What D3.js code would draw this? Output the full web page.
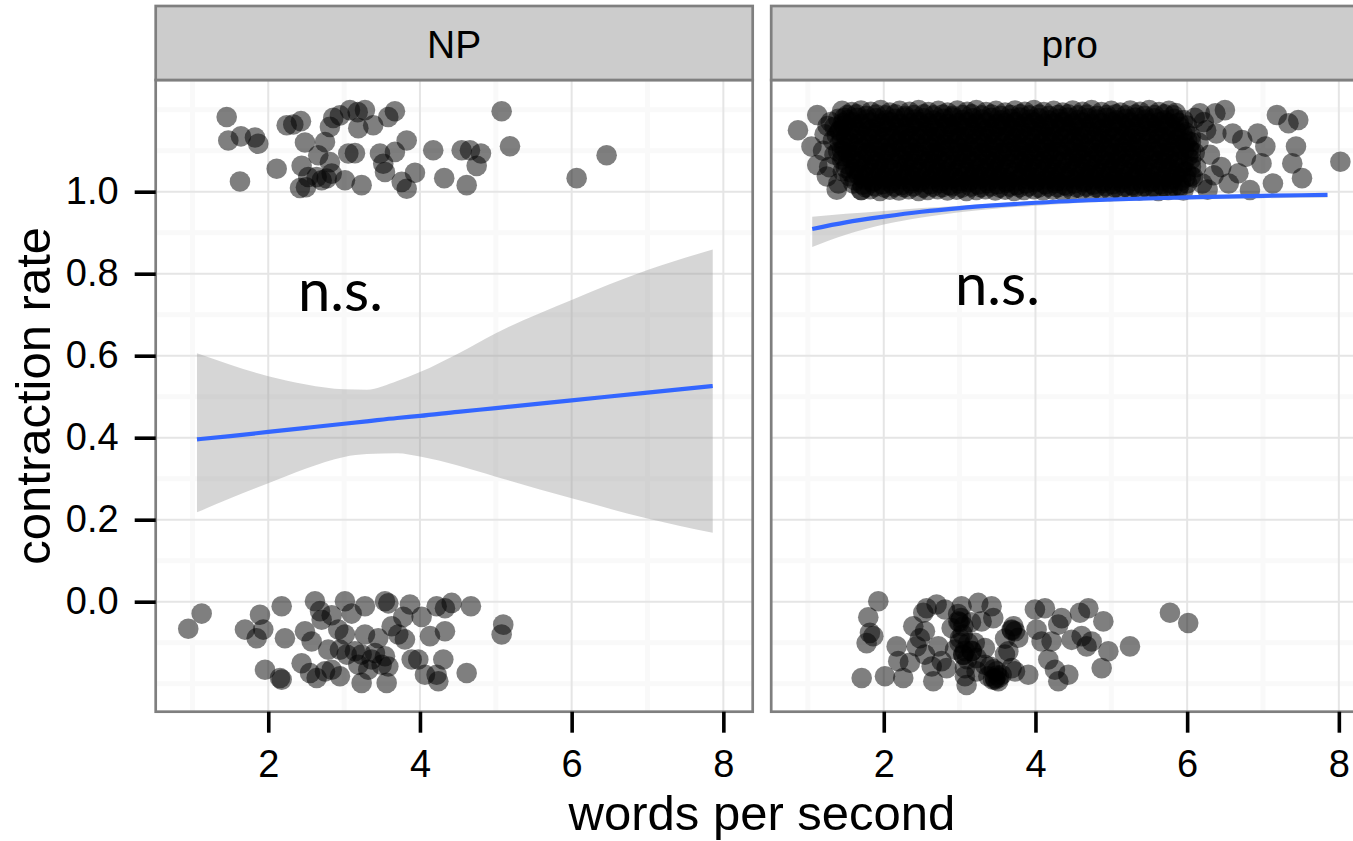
<!DOCTYPE html>
<html><head><meta charset="utf-8">
<script src="https://cdn.jsdelivr.net/npm/d3@7"></script>
<style>body{margin:0;background:#fff}svg{display:block}</style>
</head><body><svg id="chart" width="1353" height="841"></svg>
<script>
// ---------- data ----------
const panels = ["NP", "pro"];
const xTicks = [2, 4, 6, 8];
const xTickLabels = ["2", "4", "6", "8"];
const yTicks = [0.0, 0.2, 0.4, 0.6, 0.8, 1.0];
const yTickLabels = ["0.0", "0.2", "0.4", "0.6", "0.8", "1.0"];
const xMinor = [1, 3, 5, 7];
const yMinor = [-0.2, -0.1, 0.1, 0.3, 0.5, 0.7, 0.9, 1.1, 1.2];
const xTitle = "words per second";
const yTitle = "contraction rate";
const annotations = ["n.s.", "n.s."];

const npTop = [[1.452,1.182],[1.473,1.125],[1.640,1.135],[1.825,1.132],[1.868,1.117],[1.627,1.025],[2.111,1.056],[2.243,1.162],[2.330,1.164],[2.431,1.172],[2.484,1.120],[2.440,1.063],[2.418,1.009],[2.497,1.011],[2.527,1.036],[2.659,1.089],[2.748,1.121],[2.813,1.158],[2.857,1.180],[2.945,1.186],[3.077,1.199],[3.179,1.194],[3.275,1.199],[3.187,1.155],[3.384,1.162],[3.582,1.182],[3.670,1.196],[2.813,1.072],[2.836,1.044],[2.704,1.028],[2.770,1.032],[3.011,1.028],[3.055,1.093],[3.143,1.094],[3.231,1.016],[3.473,1.093],[3.516,1.068],[3.539,1.048],[3.670,1.097],[3.825,1.125],[3.759,1.024],[3.825,1.007],[3.934,1.046],[4.175,1.101],[4.320,1.033],[4.550,1.101],[4.659,1.101],[4.804,1.093],[4.748,1.063],[4.616,1.016],[5.077,1.196],[5.187,1.111],[2.638,1.036],[6.461,1.089],[6.066,1.033]];

const npBottom = [[1.122,-0.029],[0.945,-0.066],[1.693,-0.068],[1.891,-0.032],[1.934,-0.068],[1.847,-0.089],[2.177,-0.011],[2.220,-0.089],[1.957,-0.166],[2.177,-0.190],[2.155,-0.186],[2.484,-0.072],[2.572,-0.097],[2.616,0.001],[2.682,-0.023],[2.704,-0.044],[2.836,-0.033],[2.440,-0.150],[2.550,-0.174],[2.638,-0.186],[2.791,-0.117],[2.748,-0.170],[2.836,-0.166],[2.945,-0.182],[3.011,0.001],[3.099,-0.029],[2.923,-0.068],[3.011,-0.080],[2.945,-0.117],[3.034,-0.129],[3.143,-0.121],[3.231,-0.129],[3.187,-0.154],[3.275,-0.080],[3.275,-0.011],[3.231,-0.198],[3.318,-0.166],[3.450,-0.089],[3.539,0.001],[3.583,-0.004],[3.539,-0.133],[3.583,-0.158],[3.561,-0.198],[3.627,-0.060],[3.714,-0.080],[3.802,-0.092],[3.780,-0.037],[3.868,-0.007],[3.891,-0.141],[3.978,-0.141],[4.022,-0.037],[4.066,-0.178],[4.132,-0.084],[4.220,-0.178],[4.242,-0.194],[4.220,-0.011],[4.308,-0.141],[4.330,-0.072],[4.330,-0.016],[4.418,-0.003],[4.616,-0.174],[4.672,-0.011],[5.098,-0.056],[5.077,-0.080],[3.407,-0.125],[3.495,-0.154],[3.363,-0.141]];

const proBottom = [[1.928,0.001],[1.796,-0.038],[1.818,-0.076],[1.862,-0.084],[1.774,-0.101],[1.709,-0.186],[2.016,-0.182],[2.170,-0.109],[2.257,-0.186],[2.191,-0.145],[2.345,-0.149],[2.389,-0.060],[2.434,-0.109],[2.477,-0.089],[2.521,-0.027],[2.565,-0.016],[2.543,-0.072],[2.543,-0.129],[2.632,-0.158],[2.653,-0.194],[2.697,-0.007],[2.719,-0.109],[2.763,-0.145],[2.807,-0.019],[2.829,-0.162],[2.895,-0.064],[2.982,-0.048],[3.026,-0.011],[3.004,-0.089],[3.048,-0.129],[3.070,-0.162],[3.070,-0.182],[3.092,-0.203],[3.159,-0.121],[3.224,-0.137],[3.246,-0.003],[3.290,-0.048],[3.334,-0.154],[3.378,-0.182],[3.422,-0.011],[3.444,-0.040],[3.466,-0.186],[3.510,-0.194],[3.554,-0.178],[3.598,-0.129],[3.642,-0.121],[3.686,-0.068],[3.730,-0.072],[3.730,-0.170],[3.905,-0.178],[3.993,-0.019],[4.015,-0.068],[4.081,-0.097],[4.125,-0.016],[4.169,-0.141],[4.213,-0.097],[4.257,-0.166],[4.301,-0.056],[4.345,-0.040],[4.301,-0.194],[4.433,-0.178],[4.477,-0.093],[4.587,-0.027],[4.609,-0.084],[4.675,-0.109],[4.697,-0.016],[4.741,-0.097],[4.895,-0.048],[4.873,-0.162],[4.961,-0.121],[5.246,-0.109],[5.773,-0.027],[6.014,-0.052],[2.939,-0.117],[3.114,-0.101],[3.224,-0.170],[3.400,-0.158],[3.488,-0.170],[3.686,-0.162],[3.334,-0.113],[3.773,-0.088],[3.05,-0.06],[3.10,-0.14],[3.15,-0.05],[3.20,-0.10],[3.52,-0.185],[3.45,-0.165],[3.60,-0.09],[2.98,-0.03],[3.00,-0.05],[3.02,-0.04],[3.05,-0.13],[3.07,-0.12],[3.16,-0.12],[3.47,-0.19],[3.49,-0.18],[3.44,-0.19],[3.69,-0.07],[3.71,-0.06],[3.00,-0.10],[3.04,-0.08]];

// dense upper cluster of the "pro" panel (solid block), plus its sparse edges
const proTop = [
[1.45,1.197],[1.58,1.194],[1.70,1.198],[1.83,1.195],[1.96,1.199],[2.08,1.193],[2.21,1.197],[2.34,1.195],[2.46,1.199],[2.59,1.194],[2.72,1.197],[2.84,1.193],[2.97,1.198],[3.10,1.195],[3.22,1.199],[3.35,1.194],[3.48,1.197],[3.60,1.193],[3.73,1.198],[3.86,1.195],[3.98,1.199],[4.11,1.194],[4.24,1.197],[4.36,1.193],[4.49,1.198],[4.62,1.195],[4.74,1.199],[4.87,1.194],[5.00,1.197],[5.12,1.193],[5.25,1.198],[5.38,1.195],[5.50,1.199],[5.63,1.194],[5.76,1.197],[5.85,1.192],
[1.40,1.178],[1.52,1.175],[1.65,1.180],[1.77,1.176],[1.90,1.179],[2.03,1.174],[2.15,1.178],[2.28,1.181],[2.41,1.176],[2.53,1.179],[2.66,1.174],[2.79,1.178],[2.91,1.181],[3.04,1.175],[3.17,1.179],[3.29,1.176],[3.42,1.180],[3.55,1.174],[3.67,1.178],[3.80,1.181],[3.93,1.176],[4.05,1.179],[4.18,1.174],[4.31,1.178],[4.43,1.181],[4.56,1.175],[4.69,1.179],[4.81,1.176],[4.94,1.180],[5.07,1.174],[5.19,1.178],[5.32,1.181],[5.45,1.176],[5.57,1.179],[5.70,1.174],[5.83,1.178],[5.95,1.175],
[1.35,1.158],[1.47,1.161],[1.60,1.156],[1.73,1.159],[1.85,1.154],[1.98,1.158],[2.11,1.161],[2.23,1.155],[2.36,1.159],[2.49,1.156],[2.61,1.160],[2.74,1.154],[2.87,1.158],[2.99,1.161],[3.12,1.156],[3.25,1.159],[3.37,1.154],[3.50,1.158],[3.63,1.161],[3.75,1.155],[3.88,1.159],[4.01,1.156],[4.13,1.160],[4.26,1.154],[4.39,1.158],[4.51,1.161],[4.64,1.156],[4.77,1.159],[4.89,1.154],[5.02,1.158],[5.15,1.161],[5.27,1.155],[5.40,1.159],[5.53,1.156],[5.65,1.160],[5.78,1.154],[5.90,1.158],[6.00,1.161],
[1.38,1.138],[1.50,1.135],[1.63,1.140],[1.76,1.136],[1.88,1.139],[2.01,1.134],[2.14,1.138],[2.26,1.141],[2.39,1.136],[2.52,1.139],[2.64,1.134],[2.77,1.138],[2.90,1.141],[3.02,1.135],[3.15,1.139],[3.28,1.136],[3.40,1.140],[3.53,1.134],[3.66,1.138],[3.78,1.141],[3.91,1.136],[4.04,1.139],[4.16,1.134],[4.29,1.138],[4.42,1.141],[4.54,1.135],[4.67,1.139],[4.80,1.136],[4.92,1.140],[5.05,1.134],[5.18,1.138],[5.30,1.141],[5.43,1.136],[5.56,1.139],[5.68,1.134],[5.81,1.138],[5.94,1.141],[6.05,1.135],
[1.42,1.118],[1.55,1.121],[1.67,1.116],[1.80,1.119],[1.93,1.114],[2.05,1.118],[2.18,1.121],[2.31,1.115],[2.43,1.119],[2.56,1.116],[2.69,1.120],[2.81,1.114],[2.94,1.118],[3.07,1.121],[3.19,1.116],[3.32,1.119],[3.45,1.114],[3.57,1.118],[3.70,1.121],[3.83,1.115],[3.95,1.119],[4.08,1.116],[4.21,1.120],[4.33,1.114],[4.46,1.118],[4.59,1.121],[4.71,1.116],[4.84,1.119],[4.97,1.114],[5.09,1.118],[5.22,1.121],[5.35,1.115],[5.47,1.119],[5.60,1.116],[5.73,1.120],[5.85,1.114],[5.97,1.118],[6.05,1.121],
[1.40,1.098],[1.52,1.095],[1.65,1.100],[1.78,1.096],[1.90,1.099],[2.03,1.094],[2.16,1.098],[2.28,1.101],[2.41,1.096],[2.54,1.099],[2.66,1.094],[2.79,1.098],[2.92,1.101],[3.04,1.095],[3.17,1.099],[3.30,1.096],[3.42,1.100],[3.55,1.094],[3.68,1.098],[3.80,1.101],[3.93,1.096],[4.06,1.099],[4.18,1.094],[4.31,1.098],[4.44,1.101],[4.56,1.095],[4.69,1.099],[4.82,1.096],[4.94,1.100],[5.07,1.094],[5.20,1.098],[5.32,1.101],[5.45,1.096],[5.58,1.099],[5.70,1.094],[5.83,1.098],[5.96,1.101],[6.10,1.095],
[1.45,1.078],[1.57,1.081],[1.70,1.076],[1.83,1.079],[1.95,1.074],[2.08,1.078],[2.21,1.081],[2.33,1.075],[2.46,1.079],[2.59,1.076],[2.71,1.080],[2.84,1.074],[2.97,1.078],[3.09,1.081],[3.22,1.076],[3.35,1.079],[3.47,1.074],[3.60,1.078],[3.73,1.081],[3.85,1.075],[3.98,1.079],[4.11,1.076],[4.23,1.080],[4.36,1.074],[4.49,1.078],[4.61,1.081],[4.74,1.076],[4.87,1.079],[4.99,1.074],[5.12,1.078],[5.25,1.081],[5.37,1.075],[5.50,1.079],[5.63,1.076],[5.75,1.080],[5.88,1.074],[6.05,1.078],
[1.50,1.058],[1.62,1.055],[1.75,1.060],[1.88,1.056],[2.00,1.059],[2.13,1.054],[2.26,1.058],[2.38,1.061],[2.51,1.056],[2.64,1.059],[2.76,1.054],[2.89,1.058],[3.02,1.061],[3.14,1.055],[3.27,1.059],[3.40,1.056],[3.52,1.060],[3.65,1.054],[3.78,1.058],[3.90,1.061],[4.03,1.056],[4.16,1.059],[4.28,1.054],[4.41,1.058],[4.54,1.061],[4.66,1.055],[4.79,1.059],[4.92,1.056],[5.04,1.060],[5.17,1.054],[5.30,1.058],[5.42,1.061],[5.55,1.056],[5.68,1.059],[5.80,1.054],[5.93,1.058],[6.05,1.061],
[1.55,1.038],[1.67,1.041],[1.80,1.036],[1.93,1.039],[2.05,1.034],[2.18,1.038],[2.31,1.041],[2.43,1.035],[2.56,1.039],[2.69,1.036],[2.81,1.040],[2.94,1.034],[3.07,1.038],[3.19,1.041],[3.32,1.036],[3.45,1.039],[3.57,1.034],[3.70,1.038],[3.83,1.041],[3.95,1.035],[4.08,1.039],[4.21,1.036],[4.33,1.040],[4.46,1.034],[4.59,1.038],[4.71,1.041],[4.84,1.036],[4.97,1.039],[5.09,1.034],[5.22,1.038],[5.35,1.041],[5.47,1.035],[5.60,1.039],[5.73,1.036],[5.85,1.040],[5.98,1.034],[6.05,1.038],
[1.60,1.020],[1.72,1.017],[1.85,1.022],[1.98,1.018],[2.10,1.021],[2.23,1.016],[2.36,1.020],[2.48,1.023],[2.61,1.018],[2.74,1.021],[2.86,1.016],[2.99,1.020],[3.12,1.023],[3.24,1.017],[3.37,1.021],[3.50,1.018],[3.62,1.022],[3.75,1.016],[3.88,1.020],[4.00,1.023],[4.13,1.018],[4.26,1.021],[4.38,1.016],[4.51,1.020],[4.64,1.023],[4.76,1.017],[4.89,1.021],[5.02,1.018],[5.14,1.022],[5.27,1.016],[5.40,1.020],[5.52,1.023],[5.65,1.018],[5.78,1.021],[5.90,1.016],[6.00,1.020],
[1.70,1.004],[1.82,1.006],[1.95,1.002],[2.08,1.005],[2.20,1.003],[2.33,1.006],[2.46,1.002],[2.58,1.004],[2.71,1.006],[2.84,1.003],[2.96,1.005],[3.09,1.002],[3.22,1.004],[3.34,1.006],[3.47,1.003],[3.60,1.005],[3.72,1.002],[3.85,1.004],[3.98,1.006],[4.10,1.003],[4.23,1.005],[4.36,1.002],[4.48,1.004],[4.61,1.006],[4.74,1.003],[4.86,1.005],[4.99,1.002],[5.12,1.004],[5.24,1.006],[5.37,1.003],[5.50,1.005],[5.62,1.002],[5.75,1.004],[5.88,1.006],[5.95,1.003],
[0.869,1.150],[1.123,1.187],[1.047,1.110],[1.123,1.065],[1.250,1.037],[1.403,1.020],[1.706,1.004],[1.30,1.170],[1.22,1.140],[1.35,1.090],[1.28,1.060],[1.42,1.150],[1.46,1.050],[1.33,1.125],[1.45,1.100],[1.38,1.005],[1.48,1.180],[1.20,1.100],[1.26,1.160],
[6.10,1.180],[6.15,1.120],[6.12,1.060],[6.20,1.020],[6.25,1.150],[6.30,1.090],[6.372,1.191],[6.385,1.142],[6.27,1.005],[6.45,1.060],[6.498,1.199],[6.548,1.020],[6.600,1.142],[6.676,1.045],[6.726,1.126],[6.775,1.085],[6.828,1.004],[6.930,1.142],[6.980,1.069],[7.031,1.110],[7.131,1.020],[7.183,1.187],[7.336,1.167],[7.386,1.069],[7.435,1.110],[7.465,1.175],[7.514,1.033],[8.020,1.073],[6.169,1.191],[6.05,1.100],[6.08,1.035],[6.22,1.170],[6.35,1.040]
];

// further overlapping points inside the solid block (read as fully saturated black)
const proTopInner = [
[1.52,1.187],[1.64,1.189],[1.77,1.185],[1.90,1.188],[2.02,1.186],[2.15,1.189],[2.28,1.185],[2.40,1.187],[2.53,1.189],[2.66,1.186],[2.78,1.188],[2.91,1.185],[3.04,1.187],[3.16,1.189],[3.29,1.186],[3.42,1.188],[3.54,1.185],[3.67,1.187],[3.80,1.189],[3.92,1.186],[4.05,1.188],[4.18,1.185],[4.30,1.187],[4.43,1.189],[4.56,1.186],[4.68,1.188],[4.81,1.185],[4.94,1.187],[5.06,1.189],[5.19,1.186],[5.32,1.188],[5.44,1.185],[5.57,1.187],[5.70,1.189],[5.82,1.186],
[1.46,1.167],[1.59,1.169],[1.71,1.165],[1.84,1.168],[1.97,1.166],[2.09,1.169],[2.22,1.165],[2.35,1.167],[2.47,1.169],[2.60,1.166],[2.73,1.168],[2.85,1.165],[2.98,1.167],[3.11,1.169],[3.23,1.166],[3.36,1.168],[3.49,1.165],[3.61,1.167],[3.74,1.169],[3.87,1.166],[3.99,1.168],[4.12,1.165],[4.25,1.167],[4.37,1.169],[4.50,1.166],[4.63,1.168],[4.75,1.165],[4.88,1.167],[5.01,1.169],[5.13,1.166],[5.26,1.168],[5.39,1.165],[5.51,1.167],[5.64,1.169],[5.77,1.166],[5.89,1.168],
[1.42,1.147],[1.54,1.149],[1.67,1.145],[1.80,1.148],[1.92,1.146],[2.05,1.149],[2.18,1.145],[2.30,1.147],[2.43,1.149],[2.56,1.146],[2.68,1.148],[2.81,1.145],[2.94,1.147],[3.06,1.149],[3.19,1.146],[3.32,1.148],[3.44,1.145],[3.57,1.147],[3.70,1.149],[3.82,1.146],[3.95,1.148],[4.08,1.145],[4.20,1.147],[4.33,1.149],[4.46,1.146],[4.58,1.148],[4.71,1.145],[4.84,1.147],[4.96,1.149],[5.09,1.146],[5.22,1.148],[5.34,1.145],[5.47,1.147],[5.60,1.149],[5.72,1.146],[5.85,1.148],[5.98,1.145],
[1.45,1.127],[1.57,1.129],[1.70,1.125],[1.83,1.128],[1.95,1.126],[2.08,1.129],[2.21,1.125],[2.33,1.127],[2.46,1.129],[2.59,1.126],[2.71,1.128],[2.84,1.125],[2.97,1.127],[3.09,1.129],[3.22,1.126],[3.35,1.128],[3.47,1.125],[3.60,1.127],[3.73,1.129],[3.85,1.126],[3.98,1.128],[4.11,1.125],[4.23,1.127],[4.36,1.129],[4.49,1.126],[4.61,1.128],[4.74,1.125],[4.87,1.127],[4.99,1.129],[5.12,1.126],[5.25,1.128],[5.37,1.125],[5.50,1.127],[5.63,1.129],[5.75,1.126],[5.88,1.128],[6.00,1.125],
[1.48,1.107],[1.60,1.109],[1.73,1.105],[1.86,1.108],[1.98,1.106],[2.11,1.109],[2.24,1.105],[2.36,1.107],[2.49,1.109],[2.62,1.106],[2.74,1.108],[2.87,1.105],[3.00,1.107],[3.12,1.109],[3.25,1.106],[3.38,1.108],[3.50,1.105],[3.63,1.107],[3.76,1.109],[3.88,1.106],[4.01,1.108],[4.14,1.105],[4.26,1.107],[4.39,1.109],[4.52,1.106],[4.64,1.108],[4.77,1.105],[4.90,1.107],[5.02,1.109],[5.15,1.106],[5.28,1.108],[5.40,1.105],[5.53,1.107],[5.66,1.109],[5.78,1.106],[5.91,1.108],[6.02,1.105],
[1.46,1.087],[1.58,1.089],[1.71,1.085],[1.84,1.088],[1.96,1.086],[2.09,1.089],[2.22,1.085],[2.34,1.087],[2.47,1.089],[2.60,1.086],[2.72,1.088],[2.85,1.085],[2.98,1.087],[3.10,1.089],[3.23,1.086],[3.36,1.088],[3.48,1.085],[3.61,1.087],[3.74,1.089],[3.86,1.086],[3.99,1.088],[4.12,1.085],[4.24,1.087],[4.37,1.089],[4.50,1.086],[4.62,1.088],[4.75,1.085],[4.88,1.087],[5.00,1.089],[5.13,1.086],[5.26,1.088],[5.38,1.085],[5.51,1.087],[5.64,1.089],[5.76,1.086],[5.89,1.088],[6.01,1.085],
[1.52,1.067],[1.64,1.069],[1.77,1.065],[1.90,1.068],[2.02,1.066],[2.15,1.069],[2.28,1.065],[2.40,1.067],[2.53,1.069],[2.66,1.066],[2.78,1.068],[2.91,1.065],[3.04,1.067],[3.16,1.069],[3.29,1.066],[3.42,1.068],[3.54,1.065],[3.67,1.067],[3.80,1.069],[3.92,1.066],[4.05,1.068],[4.18,1.065],[4.30,1.067],[4.43,1.069],[4.56,1.066],[4.68,1.068],[4.81,1.065],[4.94,1.067],[5.06,1.069],[5.19,1.066],[5.32,1.068],[5.44,1.065],[5.57,1.067],[5.70,1.069],[5.82,1.066],[5.95,1.068],
[1.57,1.047],[1.69,1.049],[1.82,1.045],[1.95,1.048],[2.07,1.046],[2.20,1.049],[2.33,1.045],[2.45,1.047],[2.58,1.049],[2.71,1.046],[2.83,1.048],[2.96,1.045],[3.09,1.047],[3.21,1.049],[3.34,1.046],[3.47,1.048],[3.59,1.045],[3.72,1.047],[3.85,1.049],[3.97,1.046],[4.10,1.048],[4.23,1.045],[4.35,1.047],[4.48,1.049],[4.61,1.046],[4.73,1.048],[4.86,1.045],[4.99,1.047],[5.11,1.049],[5.24,1.046],[5.37,1.048],[5.49,1.045],[5.62,1.047],[5.75,1.049],[5.87,1.046],[5.99,1.048],
[1.62,1.028],[1.74,1.030],[1.87,1.026],[2.00,1.029],[2.12,1.027],[2.25,1.030],[2.38,1.026],[2.50,1.028],[2.63,1.030],[2.76,1.027],[2.88,1.029],[3.01,1.026],[3.14,1.028],[3.26,1.030],[3.39,1.027],[3.52,1.029],[3.64,1.026],[3.77,1.028],[3.90,1.030],[4.02,1.027],[4.15,1.029],[4.28,1.026],[4.40,1.028],[4.53,1.030],[4.66,1.027],[4.78,1.029],[4.91,1.026],[5.04,1.028],[5.16,1.030],[5.29,1.027],[5.42,1.029],[5.54,1.026],[5.67,1.028],[5.80,1.030],[5.92,1.027],
[1.76,1.011],[1.89,1.013],[2.01,1.010],[2.14,1.012],[2.27,1.011],[2.39,1.013],[2.52,1.010],[2.65,1.012],[2.77,1.011],[2.90,1.013],[3.03,1.010],[3.15,1.012],[3.28,1.011],[3.41,1.013],[3.53,1.010],[3.66,1.012],[3.79,1.011],[3.91,1.013],[4.04,1.010],[4.17,1.012],[4.29,1.011],[4.42,1.013],[4.55,1.010],[4.67,1.012],[4.80,1.011],[4.93,1.013],[5.05,1.010],[5.18,1.012],[5.31,1.011],[5.43,1.013],[5.56,1.010],[5.69,1.012],[5.81,1.011]
];

const npFitX  = [1.06, 1.5, 2.0, 2.5, 3.0, 3.3, 3.7, 4.0, 4.5, 5.0, 6.0, 7.0, 7.86];
const npFit   = [0.396, 0.404, 0.414, 0.424, 0.434, 0.440, 0.448, 0.453, 0.463, 0.472, 0.491, 0.510, 0.526];
const npUpper = [0.606, 0.578, 0.550, 0.530, 0.518, 0.517, 0.538, 0.560, 0.605, 0.655, 0.736, 0.809, 0.859];
const npLower = [0.218, 0.252, 0.289, 0.325, 0.353, 0.360, 0.362, 0.354, 0.332, 0.305, 0.252, 0.203, 0.168];

const proFitX  = [1.057, 1.5, 2.0, 2.5, 3.0, 3.5, 4.0, 5.0, 6.0, 7.0, 7.85];
const proFit   = [0.909, 0.925, 0.939, 0.951, 0.960, 0.967, 0.973, 0.981, 0.986, 0.990, 0.992];
const proUpper = [0.939, 0.946, 0.953, 0.960, 0.966, 0.972, 0.977, 0.984, 0.989, 0.993, 0.996];
const proLower = [0.865, 0.895, 0.920, 0.937, 0.950, 0.959, 0.966, 0.976, 0.981, 0.984, 0.986];

// ---------- layout ----------
const FONT = "'Liberation Sans', Arial, Helvetica, sans-serif";
const panelW = 597, panelTop = 80, panelBottom = 711.7, stripTop = 6;
const panelLefts = [155.7, 771.2];

const svg = d3.select("#chart");
svg.append("rect").attr("width", 1353).attr("height", 841).attr("fill", "#fff");

const x = d3.scaleLinear().domain([0.516, 8.387]).range([0, panelW]);
const y = d3.scaleLinear().domain([-0.2683, 1.2724]).range([panelBottom, panelTop]);

const panelData = [
  {pts: npTop.concat(npBottom), fx: npFitX, fit: npFit, up: npUpper, lo: npLower},
  {pts: proTop.concat(proTopInner, proBottom), fx: proFitX, fit: proFit, up: proUpper, lo: proLower}
];
const annPos = [[298, 311], [955, 305]];

const defs = svg.append("defs");
defs.append("clipPath").attr("id", "pclip").append("rect")
  .attr("x", 0).attr("y", panelTop).attr("width", panelW).attr("height", panelBottom - panelTop);

panels.forEach((name, i) => {
  const d = panelData[i];
  const g = svg.append("g").attr("transform", `translate(${panelLefts[i]},0)`);
  g.append("rect").attr("x", 0).attr("y", panelTop).attr("width", panelW)
    .attr("height", panelBottom - panelTop).attr("fill", "#fff");
  const grid = g.append("g");
  grid.selectAll(".vmin").data(xMinor).join("line")
    .attr("x1", v => x(v)).attr("x2", v => x(v)).attr("y1", panelTop).attr("y2", panelBottom)
    .attr("stroke", "#f9f9f9").attr("stroke-width", 5);
  grid.selectAll(".hmin").data(yMinor).join("line")
    .attr("x1", 0).attr("x2", panelW).attr("y1", v => y(v)).attr("y2", v => y(v))
    .attr("stroke", "#f9f9f9").attr("stroke-width", 5);
  grid.selectAll(".vmaj").data(xTicks).join("line")
    .attr("x1", v => x(v)).attr("x2", v => x(v)).attr("y1", panelTop).attr("y2", panelBottom)
    .attr("stroke", "#e5e5e5").attr("stroke-width", 2);
  grid.selectAll(".hmaj").data(yTicks).join("line")
    .attr("x1", 0).attr("x2", panelW).attr("y1", v => y(v)).attr("y2", v => y(v))
    .attr("stroke", "#e5e5e5").attr("stroke-width", 2);

  const inner = g.append("g").attr("clip-path", "url(#pclip)");
  inner.selectAll("circle").data(d.pts).join("circle")
    .attr("cx", p => x(p[0])).attr("cy", p => y(p[1])).attr("r", 10.3)
    .attr("fill", "#000").attr("fill-opacity", 0.5);

  const idx = d3.range(d.fx.length);
  inner.append("path").datum(idx)
    .attr("d", d3.area().curve(d3.curveMonotoneX)
      .x(k => x(d.fx[k])).y0(k => y(d.lo[k])).y1(k => y(d.up[k])))
    .attr("fill", "#999999").attr("fill-opacity", 0.4);
  inner.append("path").datum(idx)
    .attr("d", d3.line().curve(d3.curveMonotoneX).x(k => x(d.fx[k])).y(k => y(d.fit[k])))
    .attr("fill", "none").attr("stroke", "#3366FF").attr("stroke-width", 4.2);

  g.append("rect").attr("x", 0).attr("y", panelTop).attr("width", panelW)
    .attr("height", panelBottom - panelTop).attr("fill", "none")
    .attr("stroke", "#7f7f7f").attr("stroke-width", 2.7);

  g.append("rect").attr("x", 0).attr("y", stripTop).attr("width", panelW)
    .attr("height", panelTop - stripTop).attr("fill", "#cccccc")
    .attr("stroke", "#7f7f7f").attr("stroke-width", 2.7);
  g.append("text").attr("x", panelW / 2).attr("y", 58.3).attr("text-anchor", "middle")
    .attr("font-family", FONT).attr("font-size", 39).attr("fill", "#000").text(name);

  const xa = g.append("g").attr("transform", `translate(0,${panelBottom})`)
    .call(d3.axisBottom(x).tickValues(xTicks).tickFormat((v, k) => xTickLabels[k])
      .tickSize(21).tickPadding(17));
  xa.select(".domain").remove();
  xa.selectAll(".tick line").attr("stroke", "#000").attr("stroke-width", 3.6);
  xa.selectAll(".tick text").attr("font-family", FONT).attr("font-size", 38).attr("fill", "#000");

  svg.append("text").attr("x", annPos[i][0]).attr("y", annPos[i][1])
    .attr("font-family", "Lato, 'Open Sans', sans-serif").attr("font-size", 58)
    .attr("fill", "#000").text(annotations[i]);
});

const ya = svg.append("g").attr("transform", `translate(${panelLefts[0]},0)`)
  .call(d3.axisLeft(y).tickValues(yTicks).tickFormat((v, k) => yTickLabels[k])
    .tickSize(21).tickPadding(16));
ya.select(".domain").remove();
ya.selectAll(".tick line").attr("stroke", "#000").attr("stroke-width", 3.6);
ya.selectAll(".tick text").attr("font-family", FONT).attr("font-size", 38).attr("fill", "#000");

svg.append("text").attr("transform", `translate(50,${(panelTop + panelBottom) / 2}) rotate(-90)`)
  .attr("text-anchor", "middle").attr("font-family", FONT).attr("font-size", 49)
  .attr("fill", "#000").text(yTitle);
svg.append("text").attr("x", (panelLefts[0] + panelLefts[1] + panelW) / 2).attr("y", 830)
  .attr("text-anchor", "middle").attr("font-family", FONT).attr("font-size", 49)
  .attr("fill", "#000").text(xTitle);
</script></body></html>
